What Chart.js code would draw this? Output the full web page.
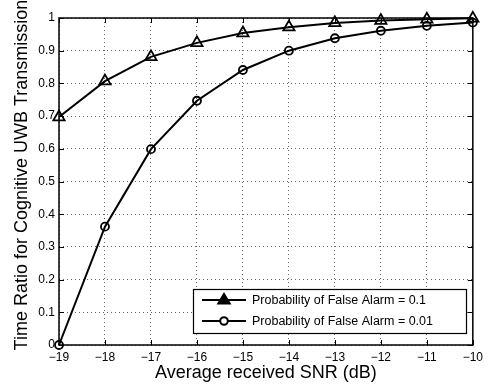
<!DOCTYPE html>
<html>
<head>
<meta charset="utf-8">
<script src="https://cdn.jsdelivr.net/npm/chart.js@4"></script>
<style>
html,body{margin:0;padding:0;background:#fff;}
#wrap{width:488px;height:385px;position:relative;}
</style>
</head>
<body>
<div id="wrap"><canvas id="c" width="488" height="385"></canvas></div>
<script>
const snr = [-19, -18, -17, -16, -15, -14, -13, -12, -11, -10];
const pfa01 = [0.697, 0.807, 0.881, 0.924, 0.954, 0.972, 0.985, 0.992, 0.996, 0.999];
const pfa001 = [0.0, 0.362, 0.599, 0.747, 0.841, 0.900, 0.938, 0.961, 0.976, 0.986];
const seriesLabels = ['Probability of False Alarm = 0.1', 'Probability of False Alarm = 0.01'];
const seriesMarkers = ['triangle', 'circle'];
const xTickLabels = ['\u221219', '\u221218', '\u221217', '\u221216', '\u221215', '\u221214', '\u221213', '\u221212', '\u221211', '\u221210'];
const yTickLabels = ['0', '0.1', '0.2', '0.3', '0.4', '0.5', '0.6', '0.7', '0.8', '0.9', '1'];
const xTitle = 'Average received SNR (dB)';
const yTitle = 'Time Ratio for Cognitive UWB Transmission';

const FONT = "'Liberation Sans', Arial, Helvetica, sans-serif";

const boxPlugin = {
  id: 'boxPlugin',
  afterDatasetsDraw(chart) {
    const {ctx, chartArea: a, scales} = chart;
    ctx.save();
    ctx.strokeStyle = '#000';
    ctx.lineWidth = 1;
    const tl = 5;
    ctx.beginPath();
    scales.x.ticks.forEach(t => {
      const px = Math.round(scales.x.getPixelForValue(t.value)) + 0.5;
      ctx.moveTo(px, a.bottom); ctx.lineTo(px, a.bottom - tl);
      ctx.moveTo(px, a.top); ctx.lineTo(px, a.top + tl);
    });
    scales.y.ticks.forEach(t => {
      const py = Math.round(scales.y.getPixelForValue(t.value)) + 0.5;
      ctx.moveTo(a.left, py); ctx.lineTo(a.left + tl, py);
      ctx.moveTo(a.right, py); ctx.lineTo(a.right - tl, py);
    });
    ctx.stroke();
    ctx.lineWidth = 1.5;
    ctx.strokeRect(a.left, a.top, a.right - a.left, a.bottom - a.top);
    ctx.restore();
  },
  afterDraw(chart) {
    const {ctx} = chart;
    ctx.save();
    ctx.translate(22, 175);
    ctx.rotate(-Math.PI / 2);
    ctx.fillStyle = '#000';
    ctx.font = '18px ' + FONT;
    ctx.textAlign = 'center';
    ctx.textBaseline = 'middle';
    ctx.fillText(yTitle, 0, 0);
    ctx.restore();

    ctx.save();
    const bx = 193, by = 289, bw = 273, bh = 44;
    ctx.fillStyle = '#fff';
    ctx.fillRect(bx, by, bw, bh);
    ctx.strokeStyle = '#000';
    ctx.lineWidth = 1.2;
    ctx.strokeRect(bx + 0.5, by + 0.5, bw, bh);
    const rows = [300, 321];
    chart.data.datasets.forEach((ds, i) => {
      const y = rows[i];
      ctx.lineWidth = 2;
      ctx.strokeStyle = '#000';
      ctx.beginPath();
      ctx.moveTo(202, y); ctx.lineTo(246, y);
      ctx.stroke();
      ctx.beginPath();
      if (ds.pointStyle === 'triangle') {
        const r = 6;
        ctx.moveTo(224, y - r);
        ctx.lineTo(224 + r * 0.95, y + r * 0.6);
        ctx.lineTo(224 - r * 0.95, y + r * 0.6);
        ctx.closePath();
        ctx.fillStyle = '#000';
        ctx.fill();
      } else {
        ctx.arc(224, y, 3.8, 0, Math.PI * 2);
        ctx.fillStyle = '#fff';
        ctx.fill();
      }
      ctx.stroke();
      ctx.fillStyle = '#000';
      ctx.font = '12.5px ' + FONT;
      ctx.textBaseline = 'middle';
      ctx.textAlign = 'left';
      ctx.fillText(ds.label, 252, y + 1);
    });
    ctx.restore();
  }
};

new Chart(document.getElementById('c'), {
  type: 'line',
  data: {
    datasets: [
      {
        label: seriesLabels[0],
        data: snr.map((x, i) => ({x: x, y: pfa01[i]})),
        borderColor: '#000', borderWidth: 2,
        pointStyle: seriesMarkers[0], pointRadius: 6.5, pointBorderWidth: 1.8,
        pointBorderColor: '#000', pointBackgroundColor: 'rgba(0,0,0,0)',
        clip: false, tension: 0
      },
      {
        label: seriesLabels[1],
        data: snr.map((x, i) => ({x: x, y: pfa001[i]})),
        borderColor: '#000', borderWidth: 2,
        pointStyle: seriesMarkers[1], pointRadius: 4, pointBorderWidth: 1.8,
        pointBorderColor: '#000', pointBackgroundColor: 'rgba(0,0,0,0)',
        clip: false, tension: 0
      }
    ]
  },
  options: {
    responsive: false,
    animation: false,
    layout: {padding: {top: 18, right: 13, left: 0, bottom: 0}},
    plugins: {legend: {display: false}, tooltip: {enabled: false}},
    scales: {
      x: {
        type: 'linear', min: -19, max: -10,
        afterBuildTicks(s) { s.ticks = snr.map(v => ({value: v})); },
        afterFit(s) { s.height = 40; },
        grid: {color: 'rgba(0,0,0,0.6)', lineWidth: 1, drawTicks: false},
        border: {display: false, dash: [1, 3]},
        ticks: {
          padding: 5, color: '#000', font: {family: FONT, size: 12},
          maxRotation: 0, autoSkip: false,
          callback(v) { const i = snr.indexOf(v); return i >= 0 ? xTickLabels[i] : ''; }
        },
        title: {display: true, text: xTitle, color: '#000', font: {family: FONT, size: 18}, padding: {top: 0, bottom: 1}}
      },
      y: {
        type: 'linear', min: 0, max: 1,
        afterBuildTicks(s) { s.ticks = yTickLabels.map((t, i) => ({value: i / 10})); },
        afterFit(s) { s.width = 59; },
        grid: {color: 'rgba(0,0,0,0.6)', lineWidth: 1, drawTicks: false},
        border: {display: false, dash: [1, 3]},
        ticks: {
          padding: 4, color: '#000', font: {family: FONT, size: 12}, autoSkip: false,
          callback(v, i) { return yTickLabels[Math.round(v * 10)]; }
        },
        title: {display: false}
      }
    }
  },
  plugins: [boxPlugin]
});
</script>
</body>
</html>
